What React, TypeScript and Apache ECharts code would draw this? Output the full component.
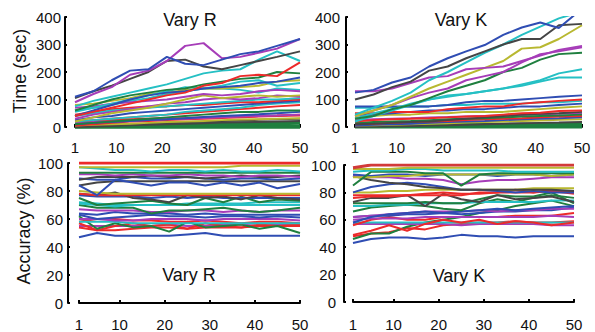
import React, { useEffect, useRef } from "react";
import * as echarts from "echarts";

// sample positions (x) shared by every line
const XS = [1, 5, 9, 13, 17, 21, 25, 29, 33, 37, 41, 45, 50];
const X_TICKS = [1, 10, 20, 30, 40, 50];

// ---- Time, vary R ----
const TIME_R_KEYS = ["g", "g", "k", "k", "y", "r", "r", "m", "b", "g", "r", "c", "b", "r", "c", "m", "y", "c", "m", "y", "c", "b", "g", "r", "c", "k", "m", "b"];
const TIME_R: number[][] = [
  [1, 1, 1, 1, 1, 1, 1, 1, 1, 1, 1, 1, 1],
  [3, 4, 5, 6, 7, 8, 9, 10, 11, 12, 13, 14, 15],
  [2, 5, 8, 10, 12, 15, 17, 20, 22, 24, 26, 28, 30],
  [0, 2, 4, 6, 8, 10, 12, 14, 16, 17, 18, 20, 22],
  [5, 8, 10, 12, 15, 18, 20, 22, 25, 27, 28, 30, 32],
  [20, 22, 25, 28, 30, 32, 33, 35, 37, 38, 40, 42, 45],
  [5, 10, 15, 20, 22, 25, 28, 30, 33, 35, 38, 40, 42],
  [15, 18, 20, 22, 25, 28, 30, 33, 35, 38, 40, 42, 45],
  [10, 15, 18, 22, 25, 28, 32, 36, 40, 43, 46, 50, 55],
  [10, 15, 20, 25, 30, 35, 40, 45, 50, 55, 55, 60, 60],
  [20, 25, 30, 35, 40, 45, 50, 55, 60, 65, 70, 75, 80],
  [20, 25, 30, 35, 40, 45, 55, 60, 65, 70, 80, 85, 90],
  [25, 35, 40, 50, 55, 60, 65, 70, 75, 80, 85, 90, 95],
  [45, 55, 65, 70, 75, 75, 80, 80, 85, 90, 90, 95, 100],
  [40, 50, 60, 65, 70, 75, 80, 85, 90, 95, 100, 100, 105],
  [30, 45, 55, 65, 75, 85, 90, 100, 105, 100, 105, 115, 110],
  [20, 35, 50, 60, 70, 85, 100, 115, 105, 110, 115, 110, 115],
  [55, 70, 80, 95, 105, 120, 130, 140, 140, 135, 125, 140, 135],
  [70, 75, 85, 90, 95, 100, 110, 120, 115, 120, 130, 135, 130],
  [80, 85, 95, 105, 120, 125, 135, 140, 140, 145, 150, 165, 170],
  [60, 70, 85, 100, 115, 130, 145, 140, 150, 165, 170, 150, 160],
  [40, 60, 80, 100, 115, 125, 130, 140, 145, 150, 160, 165, 180],
  [60, 80, 100, 115, 125, 135, 140, 155, 165, 175, 180, 200, 195],
  [40, 55, 70, 85, 100, 115, 125, 150, 160, 185, 190, 185, 235],
  [75, 95, 110, 125, 140, 155, 175, 195, 205, 210, 245, 275, 240],
  [105, 130, 150, 175, 200, 240, 245, 220, 210, 225, 240, 255, 275],
  [90, 120, 145, 190, 205, 240, 295, 305, 250, 255, 270, 285, 320],
  [110, 130, 170, 205, 210, 255, 230, 225, 245, 265, 275, 295, 320],
];

// ---- Time, vary K ----
const TIME_K_KEYS = ["g", "g", "k", "y", "b", "r", "m", "g", "k", "r", "y", "b", "c", "r", "b", "c", "c", "g", "m", "y", "m", "c", "k", "b"];
const TIME_K: number[][] = [
  [2, 2, 2, 2, 2, 2, 2, 2, 2, 2, 2, 2, 2],
  [8, 8, 8, 8, 8, 8, 8, 8, 8, 8, 8, 8, 8],
  [0, 2, 3, 4, 5, 6, 8, 10, 12, 14, 15, 16, 18],
  [5, 6, 8, 10, 12, 14, 16, 18, 20, 22, 24, 26, 28],
  [5, 8, 10, 12, 15, 18, 20, 22, 25, 28, 30, 32, 35],
  [10, 12, 15, 18, 20, 22, 25, 28, 30, 32, 35, 38, 40],
  [25, 28, 30, 32, 35, 36, 38, 40, 42, 44, 46, 48, 50],
  [15, 18, 20, 22, 25, 28, 30, 32, 35, 38, 40, 42, 45],
  [10, 12, 15, 18, 20, 25, 30, 35, 40, 45, 48, 50, 55],
  [20, 25, 28, 30, 32, 35, 38, 40, 45, 50, 52, 58, 60],
  [35, 40, 45, 45, 50, 50, 55, 55, 55, 60, 65, 70, 75],
  [45, 45, 50, 55, 60, 60, 65, 65, 70, 75, 75, 80, 85],
  [70, 70, 72, 75, 75, 80, 80, 85, 85, 85, 90, 90, 95],
  [50, 50, 55, 55, 55, 65, 70, 75, 75, 85, 90, 95, 100],
  [75, 75, 75, 75, 75, 80, 90, 95, 95, 100, 105, 110, 115],
  [30, 50, 65, 85, 100, 110, 120, 130, 140, 150, 165, 180, 180],
  [20, 40, 60, 80, 100, 115, 120, 130, 140, 155, 170, 195, 210],
  [30, 40, 65, 80, 105, 130, 150, 170, 200, 215, 245, 265, 270],
  [40, 60, 80, 105, 125, 140, 170, 185, 200, 235, 265, 275, 290],
  [40, 60, 80, 110, 140, 165, 190, 215, 240, 285, 290, 320, 370],
  [130, 130, 140, 160, 180, 185, 210, 215, 220, 240, 260, 280, 295],
  [45, 70, 95, 125, 170, 200, 235, 270, 300, 335, 365, 395, 420],
  [100, 118, 145, 165, 205, 220, 250, 275, 300, 320, 320, 370, 375],
  [125, 135, 162, 180, 220, 250, 275, 298, 335, 362, 380, 360, 430],
];

// ---- Accuracy, vary R ----
const ACC_R_KEYS = ["b", "m", "r", "r", "g", "r", "c", "m", "b", "b", "m", "g", "c", "c", "g", "b", "k", "r", "y", "k", "b", "b", "k", "m", "g", "c", "y", "r"];
const ACC_R: number[][] = [
  [47, 50, 48, 48, 48, 48, 49, 50, 48, 48, 48, 48, 48],
  [55, 55, 55, 55, 55, 56, 55, 55, 56, 56, 55, 56, 56],
  [54, 52, 52, 53, 54, 54, 53, 54, 54, 54, 55, 55, 55],
  [57, 52, 55, 57, 55, 56, 53, 57, 55, 54, 56, 55, 56],
  [62, 53, 57, 54, 55, 51, 58, 54, 55, 56, 53, 55, 50],
  [58, 60, 60, 59, 59, 58, 58, 59, 58, 57, 58, 58, 57],
  [58, 58, 58, 57, 57, 57, 57, 57, 57, 57, 57, 57, 57],
  [60, 60, 59, 59, 60, 60, 60, 59, 60, 60, 60, 60, 59],
  [63, 60, 61, 62, 63, 62, 62, 61, 62, 62, 61, 62, 61],
  [64, 63, 65, 64, 64, 64, 63, 64, 63, 63, 63, 63, 63],
  [67, 66, 66, 66, 65, 65, 66, 66, 65, 66, 65, 66, 66],
  [70, 68, 68, 68, 64, 66, 66, 67, 68, 66, 65, 66, 68],
  [71, 70, 69, 70, 70, 70, 70, 70, 70, 70, 70, 70, 70],
  [72, 71, 70, 70, 70, 70, 71, 71, 71, 71, 72, 72, 72],
  [75, 70, 71, 72, 73, 71, 70, 75, 72, 76, 72, 74, 73],
  [77, 76, 76, 76, 75, 76, 75, 76, 75, 75, 75, 75, 75],
  [78, 77, 79, 75, 74, 72, 77, 75, 76, 74, 77, 75, 74],
  [78, 77, 77, 77, 77, 77, 77, 77, 77, 77, 77, 77, 77],
  [80, 79, 78, 78, 78, 78, 78, 78, 78, 78, 78, 78, 78],
  [84, 86, 87, 87, 87, 87, 87, 87, 87, 87, 87, 87, 87],
  [84, 77, 88, 86, 84, 86, 86, 84, 86, 84, 86, 82, 85],
  [89, 88, 88, 90, 89, 89, 90, 89, 88, 89, 89, 88, 89],
  [88, 90, 90, 90, 91, 90, 90, 89, 90, 91, 90, 90, 91],
  [92, 92, 91, 92, 91, 91, 92, 91, 91, 90, 91, 91, 90],
  [93, 93, 93, 93, 93, 93, 93, 93, 93, 93, 93, 93, 93],
  [97, 96, 95, 95, 94, 95, 95, 94, 95, 94, 94, 95, 94],
  [97, 97, 97, 97, 97, 97, 97, 97, 97, 98, 98, 98, 98],
  [100, 100, 100, 100, 100, 100, 100, 100, 100, 100, 100, 100, 100],
];

// ---- Accuracy, vary K ----
const ACC_K_KEYS = ["b", "r", "g", "m", "c", "r", "r", "m", "b", "m", "b", "g", "c", "g", "k", "r", "r", "y", "b", "k", "m", "b", "y", "g", "c", "y", "r"];
const ACC_K: number[][] = [
  [43, 46, 47, 47, 46, 47, 49, 48, 48, 47, 48, 48, 48],
  [48, 50, 51, 54, 53, 56, 57, 58, 58, 59, 58, 58, 59],
  [46, 50, 50, 55, 58, 60, 62, 65, 67, 70, 72, 74, 70],
  [57, 57, 57, 57, 57, 57, 56, 57, 57, 57, 57, 56, 56],
  [58, 58, 58, 58, 58, 58, 58, 58, 58, 58, 58, 58, 58],
  [49, 52, 56, 52, 57, 60, 58, 60, 57, 59, 58, 56, 58],
  [56, 60, 62, 60, 60, 62, 62, 62, 62, 63, 63, 63, 65],
  [60, 61, 61, 61, 62, 62, 62, 62, 62, 62, 62, 63, 62],
  [62, 63, 63, 64, 64, 65, 64, 65, 66, 66, 67, 67, 69],
  [62, 63, 64, 65, 66, 66, 66, 67, 66, 67, 67, 68, 68],
  [58, 62, 64, 65, 66, 65, 66, 67, 68, 67, 68, 69, 70],
  [66, 69, 70, 71, 70, 68, 67, 72, 75, 73, 76, 78, 76],
  [70, 70, 71, 71, 72, 72, 72, 73, 73, 73, 73, 74, 74],
  [72, 72, 72, 72, 73, 72, 72, 75, 78, 77, 77, 80, 72],
  [73, 76, 76, 78, 70, 79, 75, 73, 78, 75, 76, 77, 73],
  [76, 77, 77, 78, 78, 78, 78, 80, 80, 80, 80, 81, 79],
  [78, 78, 78, 78, 79, 80, 79, 79, 80, 82, 80, 82, 80],
  [80, 80, 81, 81, 82, 82, 82, 82, 82, 82, 83, 83, 83],
  [80, 84, 86, 87, 86, 84, 82, 82, 81, 80, 81, 80, 80],
  [92, 89, 87, 86, 84, 83, 82, 82, 82, 82, 82, 82, 81],
  [92, 91, 91, 90, 90, 89, 86, 88, 89, 89, 90, 91, 91],
  [93, 92, 93, 93, 92, 93, 93, 93, 92, 93, 93, 92, 93],
  [91, 91, 92, 92, 93, 93, 93, 93, 93, 93, 93, 92, 93],
  [85, 95, 95, 95, 94, 94, 85, 93, 94, 94, 94, 94, 94],
  [95, 96, 96, 97, 97, 96, 96, 96, 96, 95, 95, 95, 95],
  [97, 97, 97, 98, 98, 98, 98, 98, 98, 98, 98, 98, 98],
  [98, 100, 100, 100, 100, 100, 100, 100, 100, 100, 100, 100, 100],
];

const TIME_TICKS = { min: 0, max: 400, interval: 100 };
const ACC_TICKS = { min: 0, max: 100, interval: 20 };

const PALETTE: Record<string, string> = {
  b: "#2f4db3",
  k: "#454545",
  m: "#a63db8",
  c: "#25c0c4",
  r: "#ec2a2a",
  g: "#1f7f3f",
  y: "#b8b830",
};

const FONT = "Liberation Sans, Arial, Helvetica, sans-serif";

export default function App() {
  const ref = useRef<HTMLDivElement>(null);
  useEffect(() => {
    if (!ref.current) return;
    const chart = echarts.init(ref.current, undefined, { renderer: "svg" });

    const grids = [
      { left: 75, top: 17, width: 225, height: 110 },
      { left: 355, top: 17, width: 227, height: 110 },
      { left: 79, top: 163, width: 221, height: 140 },
      { left: 353, top: 165, width: 221, height: 139 },
    ];
    const yOffsets = [10, 9, 11, 9];
    const xOffsets = [7, 7, 4, 5];
    const yLabelMargins = [4, 6, 5, 8];
    const xLabelMargins = [6, 6, 10, 10];

    const axisLine = { show: true, lineStyle: { color: "#000", width: 2 } };

    const xAxis = grids.map((_, i) => ({
      type: "value",
      gridIndex: i,
      min: 1,
      max: 50,
      offset: xOffsets[i],
      splitLine: { show: false },
      axisLine,
      axisTick: {
        show: true,
        inside: true,
        length: 3,
        customValues: X_TICKS,
        lineStyle: { color: "#000", width: 2 },
      },
      axisLabel: {
        customValues: X_TICKS,
        color: "#111",
        fontSize: 15,
        fontFamily: FONT,
        margin: xLabelMargins[i],
      },
    }));

    const yAxis = grids.map((_, i) => {
      const t = i < 2 ? TIME_TICKS : ACC_TICKS;
      return {
        type: "value",
        gridIndex: i,
        min: t.min,
        max: t.max,
        interval: t.interval,
        offset: yOffsets[i],
        splitLine: { show: false },
        axisLine,
        axisTick: { show: true, inside: true, length: 2, lineStyle: { color: "#000", width: 2 } },
        axisLabel: {
          color: "#111",
          fontSize: 15,
          fontFamily: FONT,
          margin: yLabelMargins[i],
        },
      };
    });

    const panels: [number[][], string[]][] = [
      [TIME_R, TIME_R_KEYS],
      [TIME_K, TIME_K_KEYS],
      [ACC_R, ACC_R_KEYS],
      [ACC_K, ACC_K_KEYS],
    ];

    const series: any[] = [];
    panels.forEach(([rows, keys], p) => {
      rows.forEach((vals, j) => {
        const key = keys[j];
        let width = 2;
        const isBottomBand = p < 2 && key === "g" && j < 2;
        const isTopRed = p >= 2 && j === rows.length - 1;
        if (isBottomBand) width = 4;
        if (isTopRed) width = 3;
        series.push({
          type: "line",
          name: `${p}-${j}`,
          xAxisIndex: p,
          yAxisIndex: p,
          data: XS.map((x, i) => [x, vals[i]]),
          showSymbol: false,
          symbol: "none",
          clip: true,
          lineStyle: { color: p === 3 && isTopRed ? "#d23a3a" : PALETTE[key], width },
          itemStyle: { color: PALETTE[key] },
          z: 2,
        });
      });
    });

    const textStyle = (s: string) => ({
      text: s,
      fill: "#111",
      font: `18px ${FONT}`,
      textAlign: "center",
      textVerticalAlign: "middle",
    });

    chart.setOption({
      animation: false,
      backgroundColor: "#fff",
      grid: grids.map((g) => ({ ...g, containLabel: false })),
      xAxis,
      yAxis,
      series,
      graphic: [
        { type: "text", x: 190, y: 20, style: textStyle("Vary R"), z: 10 },
        { type: "text", x: 461, y: 20, style: textStyle("Vary K"), z: 10 },
        { type: "text", x: 189, y: 275, style: textStyle("Vary R"), z: 10 },
        { type: "text", x: 459, y: 276, style: textStyle("Vary K"), z: 10 },
        {
          type: "text",
          x: 20,
          y: 71,
          rotation: Math.PI / 2,
          style: textStyle("Time (sec)"),
          z: 10,
        },
        {
          type: "text",
          x: 24,
          y: 231,
          rotation: Math.PI / 2,
          style: textStyle("Accuracy (%)"),
          z: 10,
        },
      ],
    });
    return () => chart.dispose();
  }, []);

  return (
    <div
      ref={ref}
      style={{ width: 595, height: 332, position: "absolute", left: 0, top: 0 }}
    />
  );
}
